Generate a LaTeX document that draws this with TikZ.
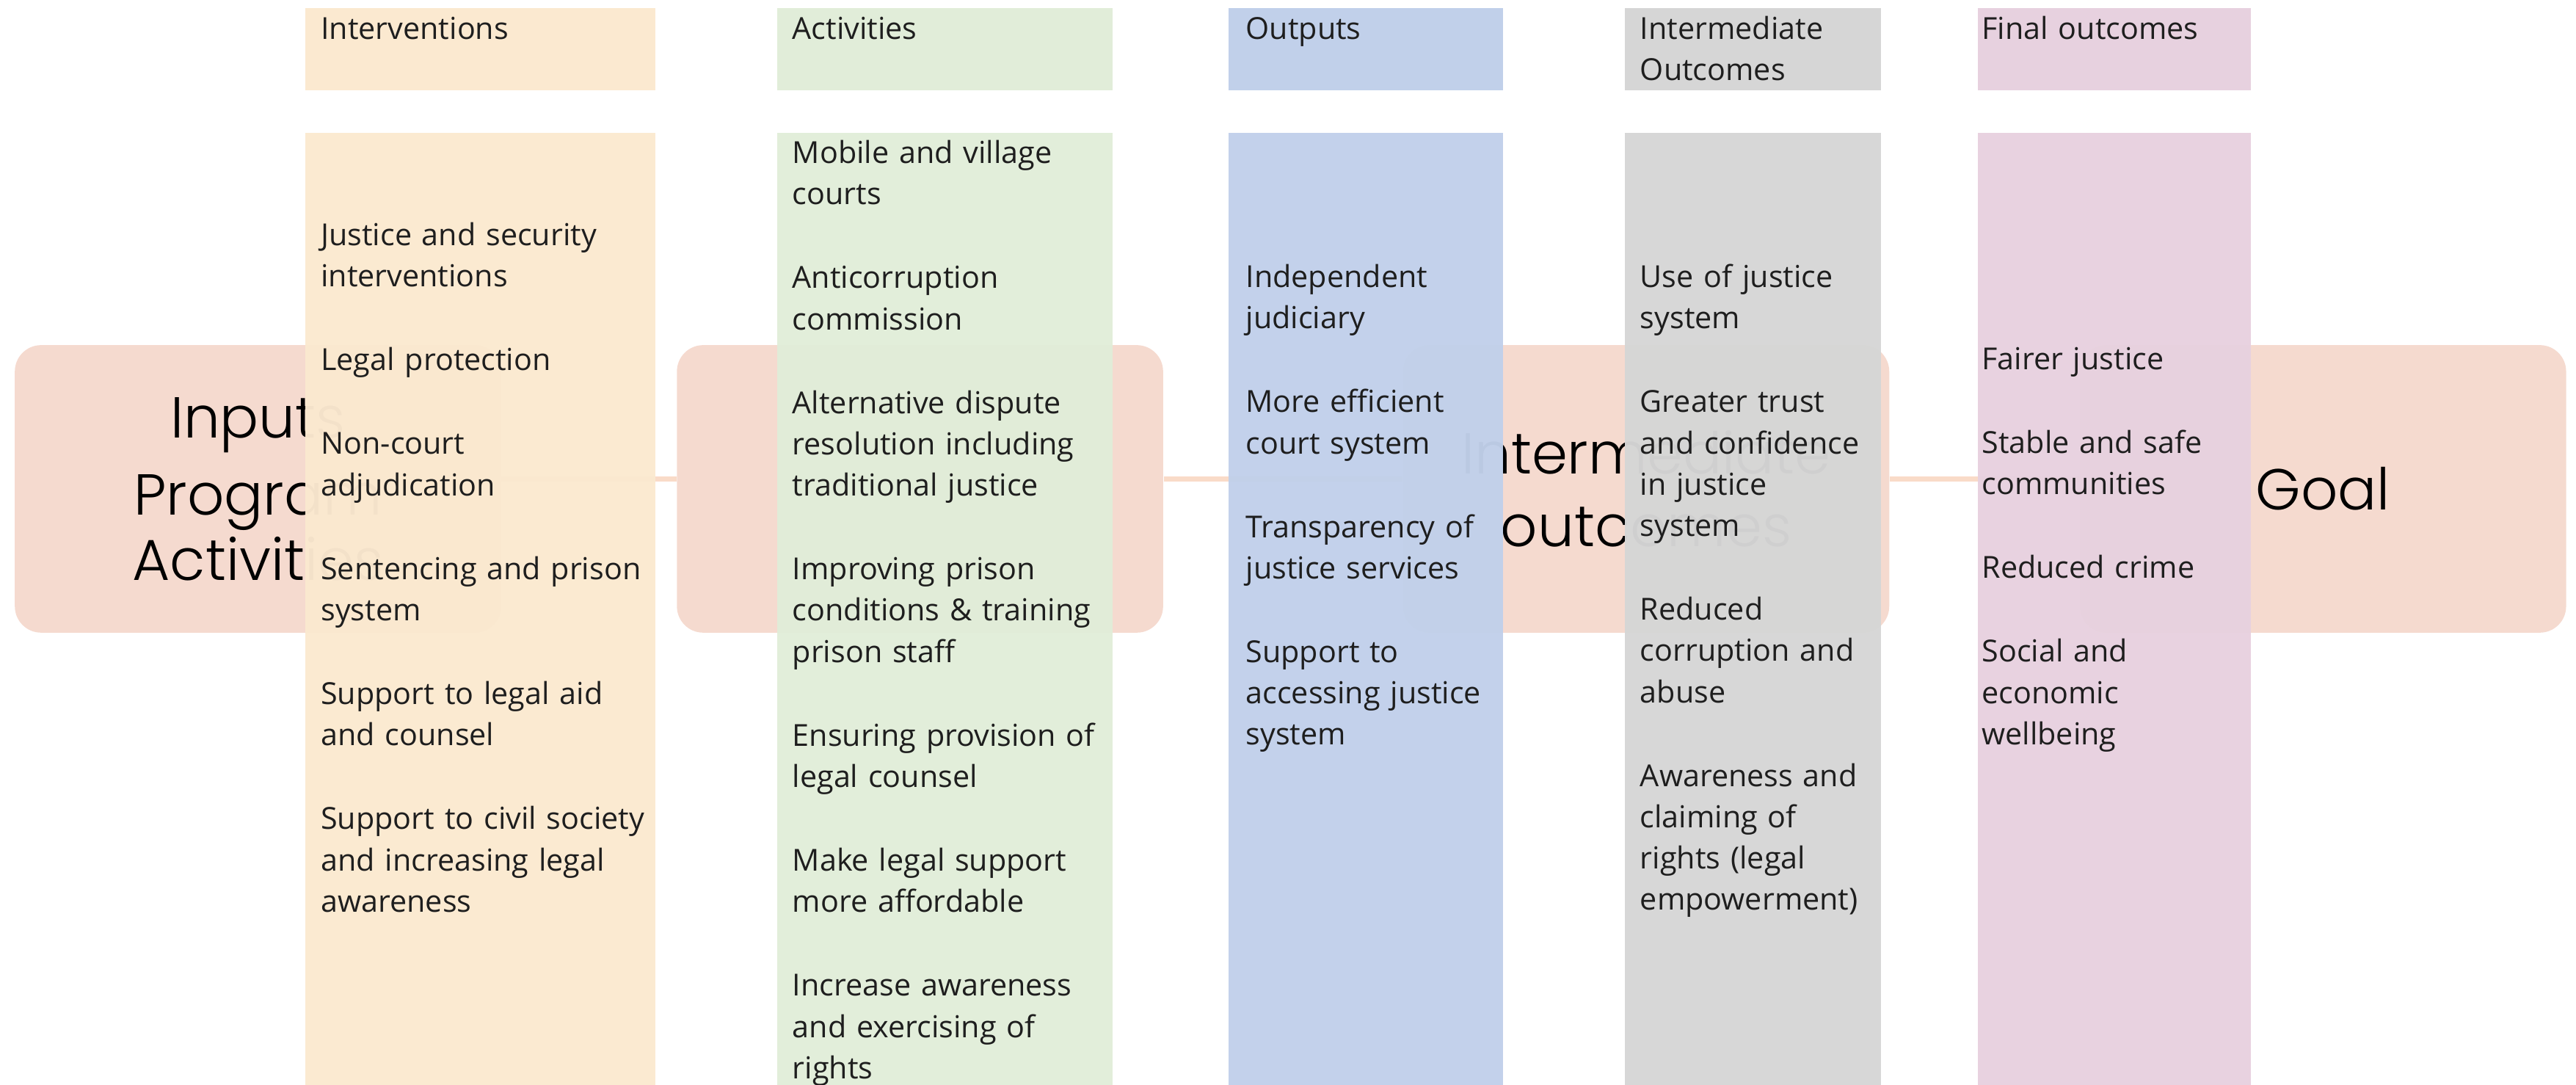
\documentclass[tikz,border=0pt]{standalone}
\usepackage{fontspec}
\setmainfont{Open Sans}
\newfontfamily\stagefont{Poppins}[UprightFont={* Light}]
\usetikzlibrary{positioning}
\definecolor{peach}{RGB}{251,233,208}
\definecolor{sage}{RGB}{225,237,217}
\definecolor{skyblue}{RGB}{193,208,234}
\definecolor{silver}{RGB}{214,214,214}
\definecolor{mauve}{RGB}{231,209,223}
\definecolor{salmon}{RGB}{245,218,207}
\definecolor{linkline}{RGB}{249,219,200}
\definecolor{inkgray}{RGB}{30,30,30}
\newcommand{\itemfont}{\fontsize{10.5}{14.3}\selectfont}
\newcommand{\bigfont}{\stagefont\fontsize{20}{22.7}\selectfont}

\begin{document}
\begin{tikzpicture}[
    x=0.02cm, y=-0.02cm,
    node distance=14.3pt,
    stage/.style={
      rectangle, rounded corners=0.32cm, fill=salmon,
      minimum width=5.92cm, minimum height=3.5cm,
      align=center, font=\bigfont, text=black
    },
    link/.style={draw=linkline, line width=0.06cm},
    column/.style={fill opacity=0.97},
    entry/.style={
      anchor=north west, inner sep=0pt, align=left,
      text width=4.1cm, font=\itemfont, text=inkgray,
      execute at begin node=\strut, execute at end node=\strut
    },
    under/.style={below=of #1, anchor=north west}
  ]
  \useasboundingbox (0,0) rectangle (1568,660);
  \clip (0,0) rectangle (1568,660);

  % stages behind the columns
  \node[stage] (inputs)  at (157,297.5)  {Inputs\\[4pt]Program\\Activities};
  \node[stage] (results) at (560,297.5)  {};
  \node[stage] (interm)  at (1002,297.5) {Intermediate\\[2.5pt]outcomes};
  \node[stage] (goal)    at (1414,297.5) {Goal};

  \draw[link] ([yshift=0.12cm]inputs.east)  -- ([yshift=0.12cm]results.west);
  \draw[link] ([yshift=0.12cm]results.east) -- ([yshift=0.12cm]interm.west);
  \draw[link] ([yshift=0.12cm]interm.east)  -- ([yshift=0.12cm]goal.west);

  % columns
  \fill[peach]  (186,5) rectangle (399,55);
  \fill[sage]   (473,5) rectangle (677,55);
  \fill[skyblue](748,5) rectangle (915,55);
  \fill[silver] (989,5) rectangle (1145,55);
  \fill[mauve]  (1204,5) rectangle (1370,55);

  \fill[peach, column]   (186,81) rectangle (399,662);
  \fill[sage, column]    (473,81) rectangle (677,662);
  \fill[skyblue, column] (748,81) rectangle (915,662);
  \fill[silver, column]  (989,81) rectangle (1145,662);
  \fill[mauve, column]   (1204,81) rectangle (1370,662);

  % headers
  \node[entry] (hint) at (195,6)  {Interventions};
  \node[entry] (hact) at (482,6)  {Activities};
  \node[entry] (hout) at (758,6)  {Outputs};
  \node[entry] (hmid) at (998,6)  {Intermediate\\Outcomes};
  \node[entry] (hfin) at (1206,6) {Final outcomes};

  % interventions
  \node[entry] (int1) at (195,131.5) {Justice and security\\interventions};
  \node[entry, under=int1.south west] (int2) {Legal protection};
  \node[entry, under=int2.south west] (int3) {Non-court\\adjudication};
  \node[entry, under=int3.south west] (int4) {Sentencing and prison\\system};
  \node[entry, under=int4.south west] (int5) {Support to legal aid\\and counsel};
  \node[entry, under=int5.south west] (int6) {Support to civil society\\and increasing legal\\awareness};

  % activities
  \node[entry] (act1) at (482,81.5) {Mobile and village\\courts};
  \node[entry, under=act1.south west] (act2) {Anticorruption\\commission};
  \node[entry, under=act2.south west] (act3) {Alternative dispute\\resolution including\\traditional justice};
  \node[entry, under=act3.south west] (act4) {Improving prison\\conditions \& training\\prison staff};
  \node[entry, under=act4.south west] (act5) {Ensuring provision of\\legal counsel};
  \node[entry, under=act5.south west] (act6) {Make legal support\\more affordable};
  \node[entry, under=act6.south west] (act7) {Increase awareness\\and exercising of\\rights};

  % outputs
  \node[entry] (out1) at (758,157) {Independent\\judiciary};
  \node[entry, under=out1.south west] (out2) {More efficient\\court system};
  \node[entry, under=out2.south west] (out3) {Transparency of\\justice services};
  \node[entry, under=out3.south west] (out4) {Support to\\accessing justice\\system};

  % intermediate outcomes
  \node[entry] (mid1) at (998,157) {Use of justice\\system};
  \node[entry, under=mid1.south west] (mid2) {Greater trust\\and confidence\\in justice\\system};
  \node[entry, under=mid2.south west] (mid3) {Reduced\\corruption and\\abuse};
  \node[entry, under=mid3.south west] (mid4) {Awareness and\\claiming of\\rights (legal\\empowerment)};

  % final outcomes
  \node[entry] (fin1) at (1206,207) {Fairer justice};
  \node[entry, under=fin1.south west] (fin2) {Stable and safe\\communities};
  \node[entry, under=fin2.south west] (fin3) {Reduced crime};
  \node[entry, under=fin3.south west] (fin4) {Social and\\economic\\wellbeing};
\end{tikzpicture}
\end{document}
